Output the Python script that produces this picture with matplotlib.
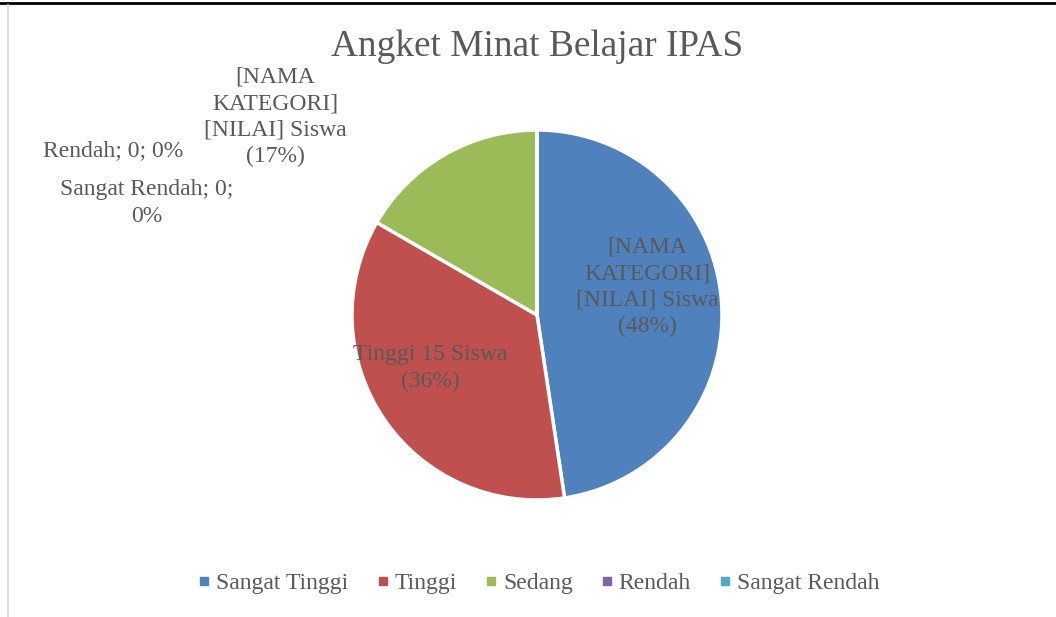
import matplotlib.pyplot as plt
from matplotlib.lines import Line2D

plt.rcParams['font.family'] = ['Liberation Serif', 'DejaVu Serif']

categories = ["Sangat Tinggi", "Tinggi", "Sedang", "Rendah", "Sangat Rendah"]
values = [20, 15, 7, 0, 0]
colors = ["#4F81BD", "#C0504D", "#9BBB59", "#8064A2", "#4BACC6"]
title = "Angket Minat Belajar IPAS"

# label texts as shown in the chart (placeholders kept as they are)
label_texts = [
    "[NAMA\nKATEGORI]\n[NILAI] Siswa\n(48%)",
    "Tinggi 15 Siswa\n(36%)",
    "[NAMA\nKATEGORI]\n[NILAI] Siswa\n(17%)",
    "Rendah; 0; 0%",
    "Sangat Rendah; 0;\n0%",
]
# label centres in pixels (x, y from top)
label_pos = [(647, 287), (430, 368), (275, 117), (113, 151), (147, 203)]

W, H = 1056, 617
txt = "#595959"

fig = plt.figure(figsize=(W / 100, H / 100), dpi=100)

# pie centre ~ (537, 315), radius ~185 px
ax = fig.add_axes([352 / W, 117 / H, 370 / W, 370 / H])
ax.pie(values, colors=colors, startangle=90, counterclock=False, radius=1,
       wedgeprops=dict(edgecolor="white", linewidth=2.5))
ax.set_xlim(-1.0, 1.0)
ax.set_ylim(-1.0, 1.0)
ax.set_aspect("equal")
ax.axis("off")

for t, (px, py) in zip(label_texts, label_pos):
    fig.text(px / W, 1 - py / H, t, ha="center", va="center",
             fontsize=17, color=txt, linespacing=1.35)

fig.text(537 / W, 1 - 47 / H, title, ha="center", va="center",
         fontsize=26.8, color=txt)

handles = [Line2D([], [], marker="s", linestyle="none", markersize=6,
                  markerfacecolor=c, markeredgecolor=c) for c in colors]
fig.legend(handles, categories, loc="center", bbox_to_anchor=(539 / W, 1 - 583 / H),
           ncol=5, frameon=False, fontsize=17, labelcolor=txt,
           handlelength=0.5, handletextpad=0.25, columnspacing=1.2)

# frame lines
fig.add_artist(Line2D([0, 1], [1 - 2.5 / H, 1 - 2.5 / H], color="black", linewidth=2,
                      transform=fig.transFigure))
fig.add_artist(Line2D([7.5 / W, 7.5 / W], [0, 1 - 5 / H], color="#d9d9d9", linewidth=1.2,
                      transform=fig.transFigure))

fig.savefig("out.png", dpi=100, facecolor="white")
